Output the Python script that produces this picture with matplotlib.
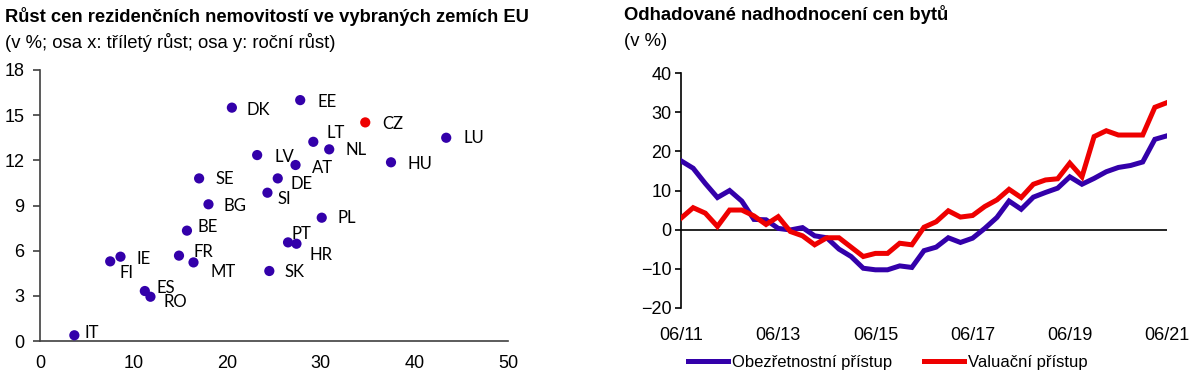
import matplotlib
matplotlib.use("Agg")
import matplotlib.pyplot as plt
import numpy as np

# ---------------- data ----------------
countries = ["DK", "LV", "SE", "BG", "BE", "FR", "MT", "IE", "FI", "ES", "RO", "IT",
             "SI", "DE", "AT", "SK", "EE", "CZ", "LT", "NL", "LU", "HU", "PL", "PT", "HR"]
growth_3y = [20.5, 23.2, 17.0, 18.0, 15.7, 14.85, 16.4, 8.6, 7.5, 11.2, 11.8, 3.67,
             24.3, 25.4, 27.3, 24.5, 27.8, 34.75, 29.2, 30.9, 43.4, 37.5, 30.1, 26.5, 27.4]
growth_1y = [15.5, 12.35, 10.8, 9.08, 7.33, 5.67, 5.22, 5.6, 5.29, 3.32, 2.94, 0.38,
             9.85, 10.8, 11.69, 4.65, 16.0, 14.52, 13.23, 12.73, 13.5, 11.87, 8.19, 6.55, 6.46]
highlight = "CZ"

quarter_labels = ["06/11", "06/13", "06/15", "06/17", "06/19", "06/21"]
prudent = [17.6, 15.7, 11.8, 8.2, 10.0, 7.3, 2.6, 2.5, 0.3, -0.1,
           0.5, -1.6, -2.1, -5.0, -6.9, -9.9, -10.3, -10.3, -9.3, -9.7,
           -5.4, -4.5, -2.1, -3.3, -2.2, 0.3, 3.1, 7.3, 5.2, 8.3,
           9.5, 10.6, 13.5, 11.6, 13.1, 14.8, 15.9, 16.4, 17.3, 23.1, 24.0]
valuation = [2.9, 5.6, 4.2, 0.8, 5.0, 5.0, 3.5, 1.3, 3.3, -0.5,
             -1.6, -3.9, -2.1, -2.1, -4.5, -6.9, -6.1, -6.1, -3.5, -3.9,
             0.6, 2.0, 4.8, 3.2, 3.6, 5.9, 7.6, 10.3, 8.2, 11.6,
             12.7, 13.0, 17.0, 13.5, 23.8, 25.3, 24.2, 24.2, 24.2, 31.3, 32.5]

# label offsets in pixels (dx right, dy up)
label_offsets = {
    "DK": (15, -2), "LV": (17.5, -1.5), "SE": (16.5, -1), "BG": (15.5, -1.5),
    "BE": (10.5, 3.5), "FR": (15, 3.5), "MT": (16.5, -10), "IE": (16, -2.5),
    "FI": (9.5, -11.5), "ES": (11.5, 3.5), "RO": (13.5, -5.5), "IT": (10, 2.5),
    "SI": (10.5, -6.5), "DE": (12.5, -6), "AT": (16, -2.5), "SK": (15, -1.5),
    "EE": (17, -1.5), "CZ": (17, -2), "LT": (13, 9), "NL": (16.5, -0.5),
    "LU": (17, -0.5), "HU": (16.5, -2), "PL": (16, -0.5), "PT": (3.5, 8.5),
    "HR": (13.5, -11.5),
}

BLUE = "#3300AA"
RED = "#EE0000"
SPINE = "#404040"

plt.rcParams["font.family"] = ["Liberation Sans", "DejaVu Sans"]

W, H = 1192, 380
fig = plt.figure(figsize=(W / 100, H / 100), dpi=100)

def frac(x0, y_top, x1, y_bot):
    return [x0 / W, 1 - y_bot / H, (x1 - x0) / W, (y_bot - y_top) / H]

# ---------------- left: scatter ----------------
ax1 = fig.add_axes(frac(40, 70, 508, 341))
colors = [RED if c == highlight else BLUE for c in countries]
ax1.scatter(growth_3y, growth_1y, s=54, c=colors, linewidths=0, zorder=3)
for c, x, y in zip(countries, growth_3y, growth_1y):
    dx, dy = label_offsets[c]
    ax1.annotate(c, (x, y), xytext=(dx, dy), textcoords="offset pixels",
                 ha="left", va="center", fontsize=12, family=["Lato", "DejaVu Sans"],
                 color="black")
ax1.set_xlim(0, 50)
ax1.set_ylim(0, 18)
ax1.set_yticks(np.arange(0, 19, 3))
ax1.set_xticks(np.arange(0, 51, 10))
ax1.spines[["top", "right"]].set_visible(False)
for s in ["left", "bottom"]:
    ax1.spines[s].set_color(SPINE)
    ax1.spines[s].set_linewidth(1.2)
ax1.tick_params(axis="y", length=5, width=1.2, color=SPINE, pad=6, labelsize=13)
ax1.tick_params(axis="x", length=0, pad=10, labelsize=13)

fig.text(5 / W, 1 - 17 / H, "Růst cen rezidenčních nemovitostí ve vybraných zemích EU",
         fontsize=13.2, fontweight="bold", va="center", ha="left")
fig.text(5 / W, 1 - 42 / H, "(v %; osa x: tříletý růst; osa y: roční růst)",
         fontsize=13.3, va="center", ha="left")

# ---------------- right: lines ----------------
ax2 = fig.add_axes(frac(681, 73.3, 1167, 307.7))
xq = np.arange(len(prudent))
l1, = ax2.plot(xq, prudent, color=BLUE, lw=3.6, solid_joinstyle="miter", zorder=3)
l2, = ax2.plot(xq, valuation, color=RED, lw=3.6, solid_joinstyle="miter", zorder=4)
ax2.axhline(0, color="black", lw=1.2, zorder=2)
ax2.set_xlim(0, len(prudent) - 1)
ax2.set_ylim(-20, 40)
ax2.set_yticks(np.arange(-20, 41, 10))
ax2.set_xticks(np.arange(0, len(prudent), 8))
ax2.set_xticklabels(quarter_labels)
ax2.spines[["top", "right", "bottom"]].set_visible(False)
ax2.spines["left"].set_color("black")
ax2.spines["left"].set_linewidth(1.2)
ax2.tick_params(axis="y", length=4, width=1.2, pad=3, labelsize=13)
ax2.tick_params(axis="x", length=0, pad=14, labelsize=13)

fig.text(624 / W, 1 - 15 / H, "Odhadované nadhodnocení cen bytů",
         fontsize=13.3, fontweight="bold", va="center", ha="left")
fig.text(624 / W, 1 - 42 / H, "(v %)", fontsize=13.3, va="center", ha="left")

fig.legend([l1, l2], ["Obezřetnostní přístup", "Valuační přístup"],
           loc="center left", bbox_to_anchor=(688 / W, 1 - 362 / H), ncol=2,
           frameon=False, fontsize=12, handlelength=2.4, handletextpad=0.25,
           columnspacing=1.9, borderaxespad=0, borderpad=0)

fig.savefig("out.png", dpi=100)
